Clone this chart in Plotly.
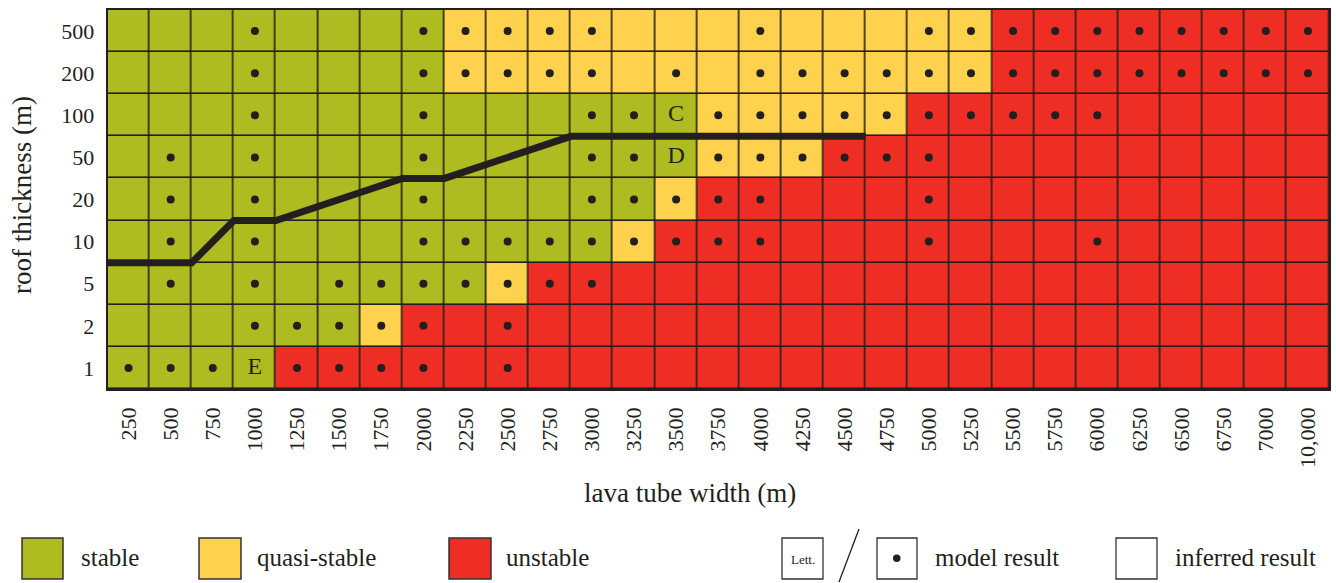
import plotly.graph_objects as go

# ---------------- data ----------------
widths = ["250", "500", "750", "1000", "1250", "1500", "1750", "2000", "2250", "2500",
          "2750", "3000", "3250", "3500", "3750", "4000", "4250", "4500", "4750", "5000",
          "5250", "5500", "5750", "6000", "6250", "6500", "6750", "7000", "10,000"]
thickness = ["1", "2", "5", "10", "20", "50", "100", "200", "500"]

# stability per roof thickness: S = stable, Q = quasi-stable, U = unstable (one char per width)
stab_1   = "SSSSUUUUUUUUUUUUUUUUUUUUUUUUU"
stab_2   = "SSSSSSQUUUUUUUUUUUUUUUUUUUUUU"
stab_5   = "SSSSSSSSSQUUUUUUUUUUUUUUUUUUU"
stab_10  = "SSSSSSSSSSSSQUUUUUUUUUUUUUUUU"
stab_20  = "SSSSSSSSSSSSSQUUUUUUUUUUUUUUU"
stab_50  = "SSSSSSSSSSSSSSQQQUUUUUUUUUUUU"
stab_100 = "SSSSSSSSSSSSSSQQQQQUUUUUUUUUU"
stab_200 = "SSSSSSSSQQQQQQQQQQQQQUUUUUUUU"
stab_500 = "SSSSSSSSQQQQQQQQQQQQQUUUUUUUU"

# widths with a model result (dot) for each roof thickness
model_1   = ["250", "500", "750", "1250", "1500", "1750", "2000", "2500"]
model_2   = ["1000", "1250", "1500", "1750", "2000", "2500"]
model_5   = ["500", "1000", "1500", "1750", "2000", "2250", "2500", "2750", "3000"]
model_10  = ["500", "1000", "2000", "2250", "2500", "2750", "3000", "3250", "3500", "3750",
             "4000", "5000", "6000"]
model_20  = ["500", "1000", "2000", "3000", "3250", "3500", "3750", "4000", "5000"]
model_50  = ["500", "1000", "2000", "3000", "3250", "3750", "4000", "4250", "4500", "4750", "5000"]
model_100 = ["1000", "2000", "3000", "3250", "3750", "4000", "4250", "4500", "4750", "5000",
             "5250", "5500", "5750", "6000"]
model_200 = ["1000", "2000", "2250", "2500", "2750", "3000", "3500", "4000", "4250", "4500",
             "4750", "5000", "5250", "5500", "5750", "6000", "6250", "6500", "6750", "7000", "10,000"]
model_500 = ["1000", "2000", "2250", "2500", "2750", "3000", "4000", "5000", "5250", "5500",
             "5750", "6000", "6250", "6500", "6750", "7000", "10,000"]

# lettered cases (width, thickness, letter)
letter_width = ["3500", "3500", "1000"]
letter_thick = ["100", "50", "1"]
letter_text = ["C", "D", "E"]

# boundary line: vertices at the left edge of a width column and the bottom edge of a thickness row
line_width_edge = ["250", "750", "1000", "1250", "2000", "2250", "3000", "4750"]
line_thick_edge = ["10", "10", "20", "20", "50", "50", "100", "100"]

legend_labels = ["stable", "quasi-stable", "unstable"]

# ---------------- styling ----------------
GREEN = "#AEBB21"
YELLOW = "#FFD24D"
RED = "#EE2E24"
INK = "#231f20"
FONT = "Liberation Serif"

W, H = 1336, 583
X0, X1 = 107.5, 1329.0   # plot area in pixels
Y0, Y1 = 10.0, 389.0


def px(x):
    return x / W


def py(y):
    return 1 - y / H


stab_rows = [stab_1, stab_2, stab_5, stab_10, stab_20, stab_50, stab_100, stab_200, stab_500]
model_rows = [model_1, model_2, model_5, model_10, model_20, model_50, model_100, model_200, model_500]
code = {"S": 0, "Q": 1, "U": 2}
z = [[code[c] for c in row] for row in stab_rows]

fig = go.Figure()
fig.add_trace(go.Heatmap(
    z=z, x=list(range(len(widths))), y=list(range(len(thickness))),
    zmin=0, zmax=2,
    colorscale=[[0, GREEN], [0.3333, GREEN], [0.3334, YELLOW], [0.6666, YELLOW], [0.6667, RED], [1, RED]],
    showscale=False, xgap=1.6, ygap=1.6, hoverinfo="skip"))

# boundary line
lx = [widths.index(w) - 0.5 for w in line_width_edge]
ly = [thickness.index(t) - 0.5 for t in line_thick_edge]
fig.add_trace(go.Scatter(x=lx, y=ly, mode="lines",
                         line=dict(color=INK, width=7), hoverinfo="skip"))

# model result dots
dx, dy = [], []
for ti, row in enumerate(model_rows):
    for w in row:
        dx.append(widths.index(w))
        dy.append(ti)
fig.add_trace(go.Scatter(x=dx, y=dy, mode="markers",
                         marker=dict(color=INK, size=8), hoverinfo="skip"))

# letters
fig.add_trace(go.Scatter(x=[widths.index(w) for w in letter_width],
                         y=[thickness.index(t) for t in letter_thick],
                         mode="text", text=letter_text,
                         textfont=dict(family=FONT, size=24, color=INK), hoverinfo="skip"))

fig.update_layout(
    width=W, height=H, margin=dict(l=0, r=0, t=0, b=0),
    paper_bgcolor="white", plot_bgcolor=INK, showlegend=False,
    font=dict(family=FONT, color=INK),
    xaxis=dict(domain=[px(X0), px(X1)], range=[-0.5, len(widths) - 0.5],
               tickvals=list(range(len(widths))), ticktext=widths, tickangle=-90,
               showgrid=False, zeroline=False, showline=True, mirror=True,
               linecolor=INK, linewidth=1.5, ticks="", ticklabelstandoff=8,
               tickfont=dict(family=FONT, size=22, color=INK)),
    yaxis=dict(domain=[py(Y1), py(Y0)], range=[-0.5, len(thickness) - 0.5],
               tickvals=list(range(len(thickness))), ticktext=thickness,
               showgrid=False, zeroline=False, showline=True, mirror=True,
               linecolor=INK, linewidth=1.5, ticks="", ticklabelstandoff=7,
               tickfont=dict(family=FONT, size=22, color=INK)),
)

annotations = [
    dict(text="roof thickness (m)", x=px(22), y=py(195), xref="paper", yref="paper",
         xanchor="center", yanchor="middle",
         textangle=-90, showarrow=False, font=dict(family=FONT, size=27, color=INK)),
    dict(text="lava tube width (m)", x=px(690), y=py(493), xref="paper", yref="paper",
         xanchor="center", yanchor="middle",
         showarrow=False, font=dict(family=FONT, size=27, color=INK)),
]

shapes = []
# colour legend
legend_boxes = [(22, 63), (199, 241), (449, 491)]
legend_text_x = [79, 255, 504]
for (bx0, bx1), col, lab, tx in zip(legend_boxes, [GREEN, YELLOW, RED], legend_labels, legend_text_x):
    shapes.append(dict(type="rect", xref="paper", yref="paper",
                       x0=px(bx0), x1=px(bx1), y0=py(579), y1=py(538),
                       fillcolor=col, line=dict(color="#333333", width=1.5)))
    annotations.append(dict(text=lab, x=px(tx), y=py(557), xref="paper", yref="paper",
                            xanchor="left", yanchor="middle", showarrow=False,
                            font=dict(family=FONT, size=25, color=INK)))

# symbol legend
for bx0, bx1 in [(782, 823), (877, 917), (1116, 1157)]:
    shapes.append(dict(type="rect", xref="paper", yref="paper",
                       x0=px(bx0), x1=px(bx1), y0=py(579), y1=py(538),
                       fillcolor="white", line=dict(color="#333333", width=1.3)))
shapes.append(dict(type="line", xref="paper", yref="paper",
                   x0=px(859), y0=py(529), x1=px(839), y1=py(582),
                   line=dict(color=INK, width=1.3)))
shapes.append(dict(type="circle", xref="paper", yref="paper",
                   x0=px(893), x1=px(900.5), y0=py(562), y1=py(554.5),
                   fillcolor=INK, line=dict(color=INK, width=0)))
annotations.append(dict(text="Lett.", x=px(802.5), y=py(559), xref="paper", yref="paper",
                        xanchor="center", yanchor="middle",
                        showarrow=False, font=dict(family=FONT, size=13, color=INK)))
annotations.append(dict(text="model result", x=px(933), y=py(557), xref="paper", yref="paper",
                        xanchor="left", yanchor="middle", showarrow=False,
                        font=dict(family=FONT, size=25, color=INK)))
annotations.append(dict(text="inferred result", x=px(1173), y=py(557), xref="paper", yref="paper",
                        xanchor="left", yanchor="middle", showarrow=False,
                        font=dict(family=FONT, size=25, color=INK)))

fig.update_layout(annotations=annotations, shapes=shapes)
fig.write_html("out.html")
